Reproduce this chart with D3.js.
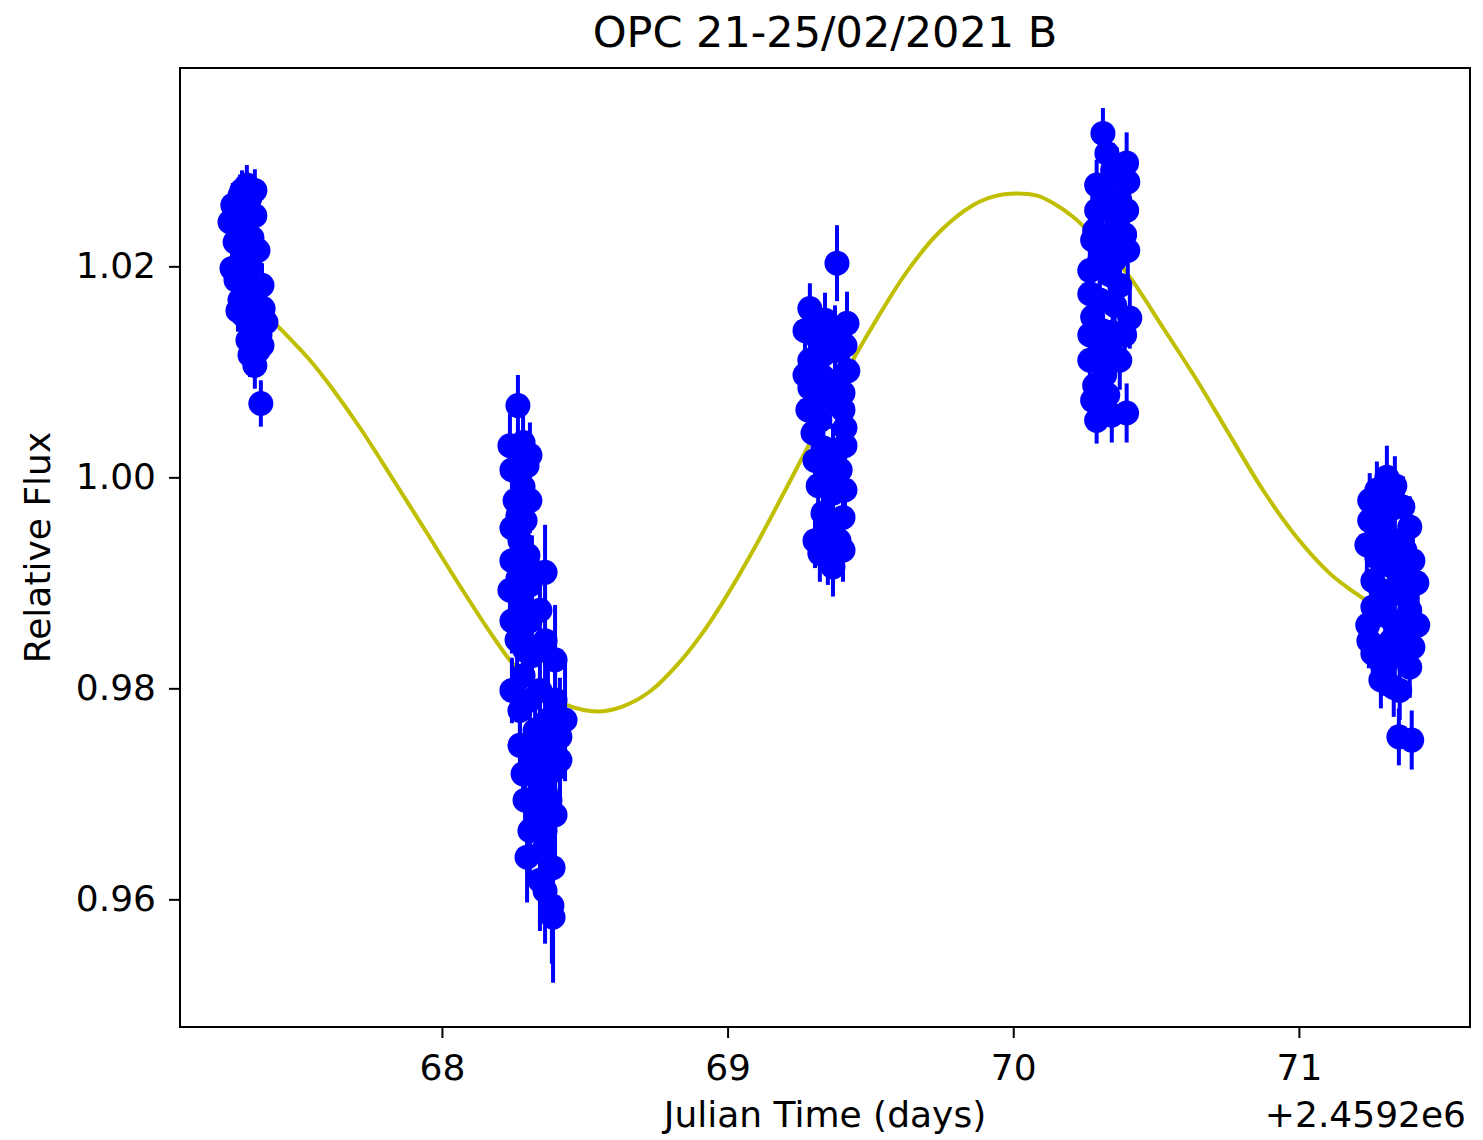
<!DOCTYPE html>
<html>
<head>
<meta charset="utf-8">
<script src="https://cdn.jsdelivr.net/npm/d3@7"></script>
<style>
  html, body { margin: 0; padding: 0; background: #ffffff; }
  svg { display: block; font-family: "DejaVu Sans", sans-serif; }
</style>
</head>
<body>
<svg id="chart" width="1483" height="1140"></svg>
<script>
// Photometry of the target, JD offsets from 2459200 (days)
const obsTime = [
  // night 1
  67.317, 67.293, 67.328, 67.268, 67.310, 67.345, 67.286, 67.335, 67.276, 67.304,
  67.328, 67.279, 67.310, 67.345, 67.293, 67.328, 67.374, 67.304, 67.345, 67.321,
  67.363, 67.356, 67.345, 67.366,
  67.258, 67.356, 67.265, 67.370, 67.321, 67.286, 67.384, 67.370, 67.328, 67.300,
  67.345,
  // night 2
  68.266, 68.284, 68.273, 68.298, 68.245, 68.284, 68.266, 68.273, 68.361, 68.266,
  68.280, 68.308, 68.263, 68.315, 68.284, 68.343, 68.396, 68.273, 68.371, 68.413,
  68.326, 68.361, 68.284, 68.389, 68.343, 68.378, 68.336, 68.361, 68.298, 68.389,
  68.343, 68.385, 68.389,
  68.308, 68.245, 68.301, 68.238, 68.308, 68.343, 68.245, 68.361, 68.291, 68.396,
  68.245, 68.308, 68.431, 68.343, 68.273, 68.413, 68.319, 68.361, 68.291, 68.396,
  68.308, 68.354, 68.361,
  68.238, 68.308, 68.256, 68.291, 68.245, 68.315, 68.273,
  // night 3
  69.383, 69.288, 69.418, 69.313, 69.376, 69.288, 69.421, 69.334, 69.288, 69.404,
  69.358, 69.313, 69.411, 69.299, 69.334, 69.369, 69.358, 69.369, 69.334, 69.404,
  69.323, 69.404, 69.369,
  69.341, 69.271, 69.376, 69.411, 69.334, 69.271, 69.376, 69.323, 69.404, 69.281,
  69.411, 69.306, 69.394, 69.317, 69.411, 69.351, 69.306, 69.390, 69.351,
  // night 4
  70.314, 70.328, 70.397, 70.401, 70.313, 70.292, 70.397, 70.362, 70.278, 70.401,
  70.303, 70.338, 70.268, 70.408, 70.278, 70.348, 70.338, 70.292, 70.320, 70.278,
  70.397, 70.292,
  70.362, 70.285, 70.338, 70.390, 70.327, 70.355, 70.268, 70.373, 70.303, 70.355,
  70.268, 70.390, 70.313, 70.268, 70.373, 70.331, 70.285, 70.345, 70.373,
  70.348, 70.292,
  // night 5
  71.308, 71.273, 71.364, 71.248, 71.388, 71.294, 71.273, 71.399, 71.353, 71.259,
  71.413, 71.332, 71.259, 71.388, 71.353, 71.259, 71.399, 71.294, 71.388, 71.332,
  71.350, 71.395, 71.300, 71.336,
  71.336, 71.248, 71.318, 71.290, 71.336, 71.238, 71.371, 71.315, 71.287, 71.371,
  71.304, 71.241, 71.416, 71.322, 71.371, 71.245, 71.336, 71.287, 71.353, 71.371
];

const obsFlux = [
  1.0277, 1.0267, 1.0265, 1.0258, 1.0253, 1.0248, 1.0236, 1.0227, 1.0223, 1.0211,
  1.0201, 1.0187, 1.0182, 1.0173, 1.0168, 1.0163, 1.0160, 1.0154, 1.0144, 1.0130,
  1.0135, 1.0120, 1.0106, 1.0070,
  1.0242, 1.0215, 1.0198, 1.0182, 1.0147, 1.0158, 1.0147, 1.0125, 1.0116, 1.0272,
  1.0272,
  1.0068, 1.0033, 1.0010, 1.0011, 1.0007, 0.9991, 0.9964, 0.9940, 0.9910, 0.9904,
  0.9882, 0.9864, 0.9846, 0.9831, 0.9812, 0.9798, 0.9789, 0.9779, 0.9770, 0.9754,
  0.9760, 0.9741, 0.9719, 0.9722, 0.9708, 0.9694, 0.9680, 0.9665, 0.9640, 0.9630,
  0.9618, 0.9594, 0.9583,
  0.9978, 0.9952, 0.9926, 0.9893, 0.9898, 0.9874, 0.9864, 0.9845, 0.9836, 0.9827,
  0.9798, 0.9789, 0.9770, 0.9751, 0.9746, 0.9732, 0.9732, 0.9703, 0.9694, 0.9680,
  0.9665, 0.9646, 0.9608,
  1.0030, 1.0021, 0.9978, 0.9959, 0.9921, 0.9912, 0.9860,
  1.0203, 1.0160, 1.0146, 1.0133, 1.0120, 1.0111, 1.0101, 1.0095, 1.0085, 1.0080,
  1.0073, 1.0066, 1.0047, 1.0042, 1.0028, 1.0023, 1.0004, 0.9985, 0.9966, 0.9962,
  0.9928, 0.9931, 0.9915,
  1.0149, 1.0139, 1.0135, 1.0125, 1.0116, 1.0097, 1.0087, 1.0054, 1.0064, 1.0064,
  1.0030, 1.0016, 1.0007, 0.9992, 0.9988, 0.9950, 0.9940, 0.9940, 0.9926,
  1.0326, 1.0307, 1.0298, 1.0280, 1.0265, 1.0253, 1.0253, 1.0237, 1.0225, 1.0215,
  1.0206, 1.0192, 1.0174, 1.0151, 1.0152, 1.0137, 1.0123, 1.0114, 1.0097, 1.0073,
  1.0061, 1.0054,
  1.0286, 1.0234, 1.0253, 1.0230, 1.0225, 1.0206, 1.0196, 1.0182, 1.0168, 1.0163,
  1.0135, 1.0135, 1.0139, 1.0111, 1.0111, 1.0078, 1.0087, 1.0059, 1.0263,
  1.0291, 1.0277,
  1.0000, 0.9988, 0.9972, 0.9959, 0.9953, 0.9947, 0.9924, 0.9921, 0.9909, 0.9902,
  0.9900, 0.9890, 0.9877, 0.9874, 0.9858, 0.9833, 0.9839, 0.9820, 0.9820, 0.9801,
  0.9754, 0.9751, 0.9936, 0.9860,
  0.9992, 0.9978, 0.9969, 0.9959, 0.9940, 0.9936, 0.9931, 0.9917, 0.9893, 0.9888,
  0.9869, 0.9860, 0.9860, 0.9845, 0.9841, 0.9845, 0.9831, 0.9808, 0.9798, 0.9864
];

const obsErr = [
  0.0019, 0.0020, 0.0020, 0.0021, 0.0020, 0.0019, 0.0020, 0.0021, 0.0020, 0.0019,
  0.0020, 0.0021, 0.0020, 0.0021, 0.0020, 0.0019, 0.0021, 0.0020, 0.0021, 0.0020,
  0.0021, 0.0021, 0.0022, 0.0022,
  0.0020, 0.0021, 0.0020, 0.0021, 0.0020, 0.0020, 0.0022, 0.0021, 0.0021, 0.0019,
  0.0020,
  0.0029, 0.0030, 0.0029, 0.0031, 0.0030, 0.0031, 0.0030, 0.0031, 0.0045, 0.0030,
  0.0032, 0.0040, 0.0031, 0.0042, 0.0033, 0.0048, 0.0060, 0.0034, 0.0052, 0.0056,
  0.0044, 0.0050, 0.0036, 0.0055, 0.0046, 0.0052, 0.0045, 0.0050, 0.0043, 0.0058,
  0.0048, 0.0055, 0.0062,
  0.0031, 0.0030, 0.0032, 0.0030, 0.0034, 0.0042, 0.0031, 0.0045, 0.0036, 0.0052,
  0.0031, 0.0038, 0.0058, 0.0046, 0.0034, 0.0054, 0.0040, 0.0050, 0.0038, 0.0055,
  0.0042, 0.0048, 0.0050,
  0.0030, 0.0031, 0.0030, 0.0031, 0.0030, 0.0033, 0.0031,
  0.0036, 0.0024, 0.0030, 0.0026, 0.0029, 0.0025, 0.0031, 0.0026, 0.0025, 0.0030,
  0.0027, 0.0026, 0.0030, 0.0025, 0.0027, 0.0028, 0.0027, 0.0028, 0.0027, 0.0030,
  0.0027, 0.0030, 0.0028,
  0.0026, 0.0024, 0.0028, 0.0030, 0.0027, 0.0024, 0.0028, 0.0026, 0.0030, 0.0025,
  0.0030, 0.0026, 0.0029, 0.0026, 0.0030, 0.0028, 0.0026, 0.0029, 0.0028,
  0.0024, 0.0025, 0.0029, 0.0029, 0.0025, 0.0024, 0.0029, 0.0027, 0.0024, 0.0029,
  0.0025, 0.0026, 0.0024, 0.0029, 0.0024, 0.0026, 0.0026, 0.0024, 0.0025, 0.0023,
  0.0028, 0.0022,
  0.0027, 0.0024, 0.0026, 0.0029, 0.0025, 0.0026, 0.0024, 0.0028, 0.0025, 0.0026,
  0.0024, 0.0029, 0.0025, 0.0024, 0.0028, 0.0026, 0.0024, 0.0026, 0.0028,
  0.0026, 0.0024,
  0.0030, 0.0027, 0.0029, 0.0026, 0.0029, 0.0027, 0.0027, 0.0029, 0.0028, 0.0026,
  0.0030, 0.0028, 0.0026, 0.0029, 0.0028, 0.0026, 0.0029, 0.0027, 0.0029, 0.0028,
  0.0027, 0.0028, 0.0027, 0.0028,
  0.0028, 0.0026, 0.0027, 0.0027, 0.0028, 0.0026, 0.0029, 0.0027, 0.0027, 0.0029,
  0.0027, 0.0026, 0.0030, 0.0028, 0.0029, 0.0026, 0.0028, 0.0027, 0.0028, 0.0029
];

// Fitted light-curve model sampled over the run
const modelTime = [
  67.328, 67.398, 67.538, 67.619, 67.713, 67.829, 67.948, 68.063, 68.179, 68.249,
  68.343, 68.438, 68.543, 68.634, 68.728, 68.823, 68.903, 68.984, 69.096, 69.204,
  69.316, 69.428, 69.509, 69.628, 69.743, 69.859, 69.943, 70.013, 70.083, 70.139,
  70.209, 70.268, 70.338, 70.408, 70.524, 70.643, 70.758, 70.874, 70.993, 71.108,
  71.168, 71.238
];
const modelFlux = [
  1.0171, 1.0151, 1.0111, 1.0083, 1.0047, 0.9998, 0.9947, 0.9897, 0.9849, 0.9823,
  0.9799, 0.9784, 0.9778, 0.9783, 0.9797, 0.9822, 0.9849, 0.9882, 0.9934, 0.9989,
  1.0047, 1.0106, 1.0144, 1.0195, 1.0233, 1.0258, 1.0267, 1.0269, 1.0267, 1.0260,
  1.0247, 1.0232, 1.0213, 1.0190, 1.0142, 1.0092, 1.0040, 0.9988, 0.9943, 0.9909,
  0.9896, 0.9883
];

const xDomain = [67.083, 71.599];
const yDomain = [0.9479, 1.0388];
const xTicks = [68, 69, 70, 71];
const yTicks = [0.96, 0.98, 1.00, 1.02];
const titleText = "OPC 21-25/02/2021 B";
const xLabel = "Julian Time (days)";
const yLabel = "Relative Flux";
const xOffsetText = "+2.4592e6";

const plot = { left: 180, right: 1470, top: 68, bottom: 1027 };

const svg = d3.select("#chart");

const x = d3.scaleLinear().domain(xDomain).range([plot.left, plot.right]);
const y = d3.scaleLinear().domain(yDomain).range([plot.bottom, plot.top]);

const points = obsTime.map((t, i) => ({ t, f: obsFlux[i], e: obsErr[i] }));
const model = modelTime.map((t, i) => ({ t, f: modelFlux[i] }));

svg.append("defs").append("clipPath").attr("id", "plot-clip")
  .append("rect")
  .attr("x", plot.left).attr("y", plot.top)
  .attr("width", plot.right - plot.left).attr("height", plot.bottom - plot.top);

const body = svg.append("g").attr("clip-path", "url(#plot-clip)");

// model curve (underneath the measurements)
body.append("path")
  .datum(model)
  .attr("fill", "none")
  .attr("stroke", "#bfbf00")
  .attr("stroke-width", 4)
  .attr("stroke-linejoin", "round")
  .attr("d", d3.line().x(d => x(d.t)).y(d => y(d.f)).curve(d3.curveCatmullRom.alpha(0.5)));

// error bars
body.append("g")
  .selectAll("line")
  .data(points)
  .join("line")
  .attr("x1", d => x(d.t)).attr("x2", d => x(d.t))
  .attr("y1", d => y(d.f - d.e)).attr("y2", d => y(d.f + d.e))
  .attr("stroke", "#0000ff")
  .attr("stroke-width", 4);

// markers
body.append("g")
  .selectAll("circle")
  .data(points)
  .join("circle")
  .attr("cx", d => x(d.t)).attr("cy", d => y(d.f))
  .attr("r", 12.5)
  .attr("fill", "#0000ff");

// axes
const fontSize = 36;
const xAxis = svg.append("g")
  .attr("transform", `translate(0,${plot.bottom})`)
  .call(d3.axisBottom(x).tickValues(xTicks).tickFormat(d3.format("d")).tickSize(11).tickPadding(16));
const yAxis = svg.append("g")
  .attr("transform", `translate(${plot.left},0)`)
  .call(d3.axisLeft(y).tickValues(yTicks).tickFormat(d3.format(".2f")).tickSize(11).tickPadding(13));

[xAxis, yAxis].forEach(a => {
  a.select(".domain").remove();
  a.selectAll(".tick line").attr("stroke", "#000").attr("stroke-width", 2);
  a.selectAll(".tick text")
    .attr("fill", "#000")
    .style("font-family", "'DejaVu Sans', sans-serif")
    .style("font-size", fontSize + "px");
});

// frame
svg.append("rect")
  .attr("x", plot.left).attr("y", plot.top)
  .attr("width", plot.right - plot.left).attr("height", plot.bottom - plot.top)
  .attr("fill", "none")
  .attr("stroke", "#000")
  .attr("stroke-width", 2);

// title and labels
svg.append("text")
  .attr("x", (plot.left + plot.right) / 2).attr("y", 47)
  .attr("text-anchor", "middle")
  .style("font-size", "43px")
  .text(titleText);

svg.append("text")
  .attr("x", (plot.left + plot.right) / 2).attr("y", 1127)
  .attr("text-anchor", "middle")
  .style("font-size", fontSize + "px")
  .text(xLabel);

svg.append("text")
  .attr("x", 1466).attr("y", 1127)
  .attr("text-anchor", "end")
  .style("font-size", fontSize + "px")
  .text(xOffsetText);

svg.append("text")
  .attr("transform", `translate(50,${(plot.top + plot.bottom) / 2}) rotate(-90)`)
  .attr("text-anchor", "middle")
  .style("font-size", fontSize + "px")
  .text(yLabel);
</script>
</body>
</html>
